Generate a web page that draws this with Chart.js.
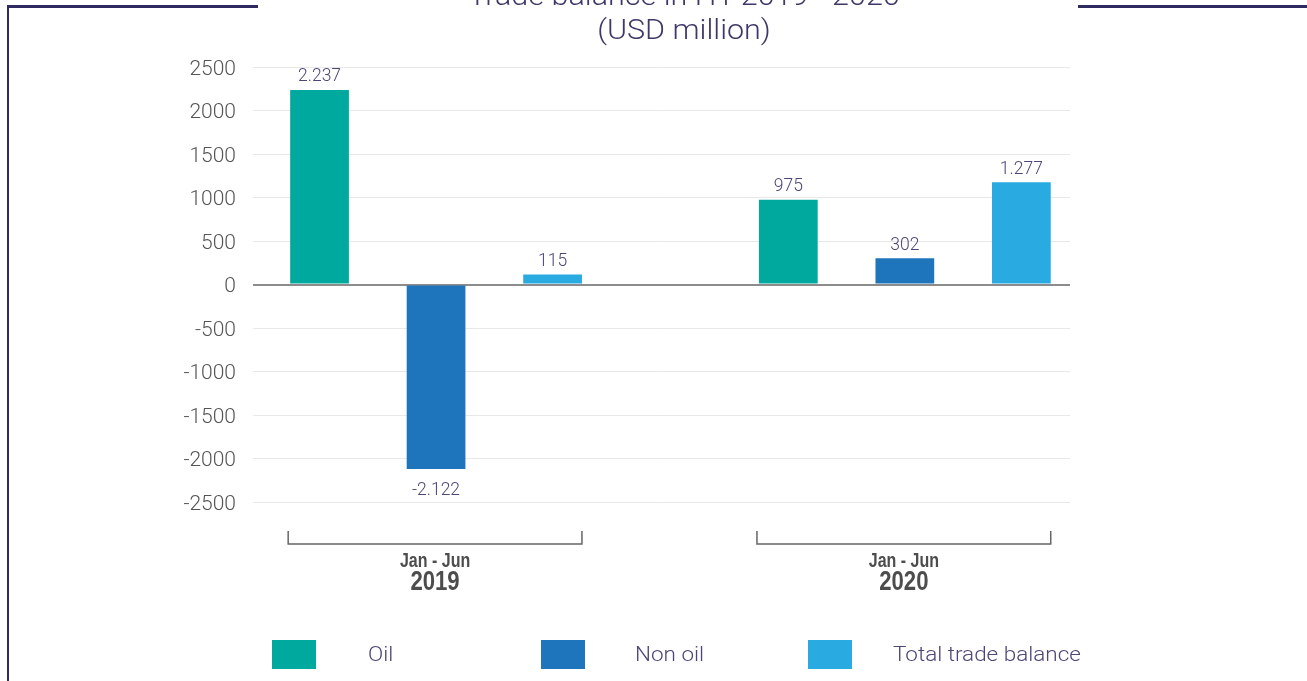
<!DOCTYPE html>
<html>
<head>
<meta charset="utf-8">
<script src="https://cdn.jsdelivr.net/npm/chart.js@4.4.1/dist/chart.umd.min.js"></script>
<style>
  html,body{margin:0;padding:0;background:#fff;width:1307px;height:681px;overflow:hidden;font-family:Roboto,"Liberation Sans",sans-serif;}
  #wrap{position:relative;width:1307px;height:681px;}
  canvas{position:absolute;left:0;top:0;}
  .frame{position:absolute;background:#2f2b60;}
  #title{position:absolute;left:384px;width:600px;top:-21px;text-align:center;font-weight:300;font-size:28px;line-height:34px;color:#3f3768;transform:scaleX(1.09);transform-origin:50% 50%;}
  .lgbox{position:absolute;top:640px;width:44px;height:29px;}
  .lgtxt{position:absolute;top:640px;height:29px;line-height:29px;font-size:21px;font-weight:300;color:#4e4476;white-space:nowrap;transform:scaleX(1.07);transform-origin:0 50%;}
</style>
</head>
<body>
<div id="wrap">
  <canvas id="c" width="1307" height="681"></canvas>
  <div class="frame" style="left:7px;top:5px;width:251px;height:3px;"></div>
  <div class="frame" style="left:1078px;top:5px;width:229px;height:3px;"></div>
  <div class="frame" style="left:7px;top:5px;width:2px;height:676px;"></div>
  <div id="title">Trade balance in H1 2019 - 2020<br>(USD million)</div>
  <div id="legend"></div>
</div>
<script>
// ---- data ----
const years = ['2019', '2020'];
const periods = ['Jan - Jun', 'Jan - Jun'];
const seriesNames = ['Oil', 'Non oil', 'Total trade balance'];
const oilValues = [2237, 975];
const nonOilValues = [-2122, 302];
const totalValues = [115, 1176];
const oilLabels = ['2.237', '975'];
const nonOilLabels = ['-2.122', '302'];
const totalLabels = ['115', '1.277'];
const yTicks = [-2500, -2000, -1500, -1000, -500, 0, 500, 1000, 1500, 2000, 2500];

const colors = ['#00a99d', '#1f75bc', '#29abe2'];
const seriesValues = [oilValues, nonOilValues, totalValues];
const seriesLabels = [oilLabels, nonOilLabels, totalLabels];

// legend (HTML) layout
const legendBoxLeft = [272, 541, 808];
const legendTextLeft = [368, 635, 893];
const legend = document.getElementById('legend');
seriesNames.forEach((n, i) => {
  const b = document.createElement('div');
  b.className = 'lgbox';
  b.style.left = legendBoxLeft[i] + 'px';
  b.style.background = colors[i];
  legend.appendChild(b);
  const t = document.createElement('div');
  t.className = 'lgtxt';
  t.style.left = legendTextLeft[i] + 'px';
  t.textContent = n;
  legend.appendChild(t);
});

const datasets = seriesNames.map((name, s) => ({
  label: name,
  data: years.map((y, i) => ({ x: i, y: seriesValues[s][i] })),
  valueLabels: seriesLabels[s],
  backgroundColor: colors[s],
  borderWidth: 0,
  categoryPercentage: 0.7457,
  barPercentage: 0.504
}));

const valueLabelPlugin = {
  id: 'valueLabels',
  afterDatasetsDraw(chart) {
    const ctx = chart.ctx;
    ctx.save();
    ctx.font = '300 17.5px Roboto, "Liberation Sans", sans-serif';
    ctx.fillStyle = '#4e4476';
    ctx.textAlign = 'center';
    ctx.textBaseline = 'middle';
    chart.data.datasets.forEach((ds, di) => {
      const meta = chart.getDatasetMeta(di);
      meta.data.forEach((el, i) => {
        const v = ds.data[i].y;
        const txt = ds.valueLabels[i];
        if (v >= 0) ctx.fillText(txt, el.x, el.y - 13);
        else ctx.fillText(txt, el.x, el.y + 22);
      });
    });
    ctx.restore();
  }
};

const bracketPlugin = {
  id: 'brackets',
  afterDraw(chart) {
    const ctx = chart.ctx;
    const b = chart.chartArea.bottom;
    ctx.save();
    years.forEach((yr, i) => {
      let l = Infinity, r = -Infinity;
      chart.data.datasets.forEach((ds, di) => {
        const el = chart.getDatasetMeta(di).data[i];
        l = Math.min(l, el.x - el.width / 2);
        r = Math.max(r, el.x + el.width / 2);
      });
      l -= 2;
      ctx.strokeStyle = '#666';
      ctx.lineWidth = 1.5;
      ctx.beginPath();
      ctx.moveTo(l, b + 29);
      ctx.lineTo(l, b + 42);
      ctx.lineTo(r, b + 42);
      ctx.lineTo(r, b + 29);
      ctx.stroke();
      const cx = (l + r) / 2;
      ctx.fillStyle = '#4d4d4d';
      ctx.textAlign = 'center';
      ctx.textBaseline = 'middle';
      ctx.save();
      ctx.translate(cx, b + 59);
      ctx.scale(0.8, 1);
      ctx.font = 'bold 20px "Liberation Sans Narrow", "Liberation Sans", sans-serif';
      ctx.fillText(periods[i], 0, 0);
      ctx.restore();
      ctx.save();
      ctx.translate(cx, b + 81);
      ctx.scale(0.82, 1);
      ctx.font = 'bold 27px "Liberation Sans Narrow", "Liberation Sans", sans-serif';
      ctx.fillText(yr, 0, 0);
      ctx.restore();
    });
    ctx.restore();
  }
};

new Chart(document.getElementById('c'), {
  type: 'bar',
  data: { datasets },
  options: {
    responsive: false,
    animation: false,
    layout: { padding: { top: 67, bottom: 179, left: 0, right: 237 } },
    plugins: { legend: { display: false }, tooltip: { enabled: false }, title: { display: false } },
    scales: {
      x: {
        type: 'linear',
        display: false,
        offset: false,
        min: -0.3905,
        max: 1.3523,
        afterBuildTicks(scale) { scale.ticks = years.map((y, i) => ({ value: i })); },
        grid: { display: false, offset: false }
      },
      y: {
        min: yTicks[0],
        max: yTicks[yTicks.length - 1],
        afterBuildTicks(scale) { scale.ticks = yTicks.map(v => ({ value: v })); },
        afterFit(scale) { scale.width = 253; },
        border: { display: false },
        grid: {
          drawTicks: false,
          color: c => (c.tick && c.tick.value === 0) ? '#8c8c8c' : '#e8e8e8',
          lineWidth: c => (c.tick && c.tick.value === 0) ? 2 : 1
        },
        ticks: {
          padding: 17,
          labelOffset: 2.5,
          color: '#555',
          callback: v => String(v),
          font: { family: 'Roboto, "Liberation Sans", sans-serif', size: 21, weight: '300' }
        }
      }
    }
  },
  plugins: [valueLabelPlugin, bracketPlugin]
});
</script>
</body>
</html>
